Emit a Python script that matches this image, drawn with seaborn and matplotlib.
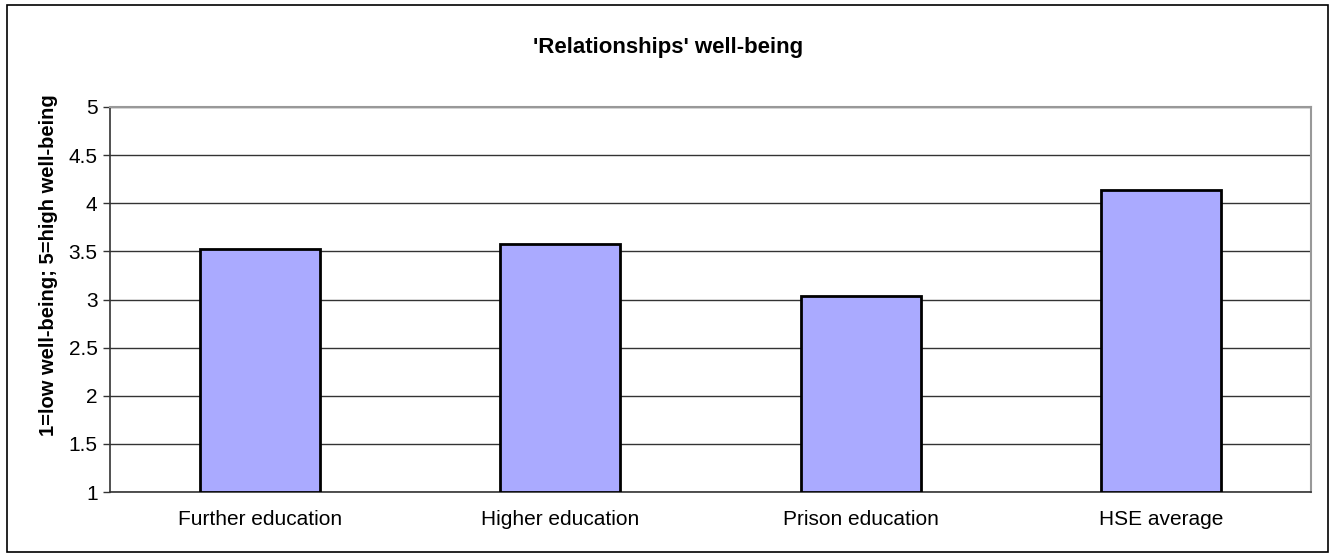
import numpy as np
import pandas as pd
import matplotlib
matplotlib.use("Agg")
import matplotlib.pyplot as plt
import seaborn as sns
from matplotlib.patches import Rectangle

# Dados do gráfico
categorias = ["Further education", "Higher education", "Prison education", "HSE average"]
valores = [3.52, 3.58, 3.04, 4.14]
y_ticks = [1, 1.5, 2, 2.5, 3, 3.5, 4, 4.5, 5]

df = pd.DataFrame({"categoria": categorias, "valor": valores})

sns.set_style("white")
plt.rcParams['font.family'] = ['Liberation Sans', 'DejaVu Sans']
plt.rcParams['text.color'] = "black"
plt.rcParams['axes.labelcolor'] = "black"
plt.rcParams['xtick.labelcolor'] = "black"
plt.rcParams['ytick.labelcolor'] = "black"

fig = plt.figure(figsize=(13.36, 5.56), dpi=100)
ax = fig.add_axes([110 / 1336, 1 - 492 / 556, 1201 / 1336, 385 / 556])

# Moldura externa do gráfico
fig.patches.append(Rectangle((7 / 1336, 4 / 556), 1321 / 1336, 547 / 556,
                             transform=fig.transFigure, fill=False,
                             edgecolor="black", linewidth=1.2))

# Barras (começando em 1, como no Excel)
df["altura"] = df["valor"] - 1
sns.barplot(data=df, x="categoria", y="altura", bottom=1, color="#AAAAFF",
            saturation=1, width=0.4, edgecolor="black", linewidth=2, ax=ax, zorder=3)

ax.set_ylim(1, 5)
ax.set_xlim(-0.5, len(categorias) - 0.5)
ax.set_yticks(y_ticks)
ax.set_yticklabels([f"{t:g}" for t in y_ticks], fontsize=15)
ax.yaxis.grid(True, color="#333333", linewidth=1, zorder=0)
ax.set_axisbelow(True)

# Ticks do eixo x entre categorias
ax.set_xticks(np.arange(len(categorias)))
ax.set_xticklabels(categorias, fontsize=15)
ax.set_xticks(np.arange(len(categorias) + 1) - 0.5, minor=True)
ax.tick_params(axis="x", which="major", length=0, pad=13)
ax.tick_params(axis="x", which="minor", length=5, width=1, color="#333333", direction="out")
ax.tick_params(axis="y", length=5, width=1, color="#333333", direction="out", left=True, pad=4)

for lado in ["left", "bottom"]:
    ax.spines[lado].set_color("#333333")
    ax.spines[lado].set_linewidth(1.2)
for lado in ["top", "right"]:
    ax.spines[lado].set_color("#999999")
    ax.spines[lado].set_linewidth(1.5)

ax.set_xlabel("")
ax.set_ylabel("1=low well-being; 5=high well-being", fontsize=14.5, fontweight="bold")
ax.yaxis.set_label_coords(-0.043, 0.59)
fig.text(0.5, 1 - 47 / 556, "'Relationships' well-being", ha="center", va="center",
         fontsize=16, fontweight="bold")

fig.savefig("out.png", dpi=100, facecolor="white")
